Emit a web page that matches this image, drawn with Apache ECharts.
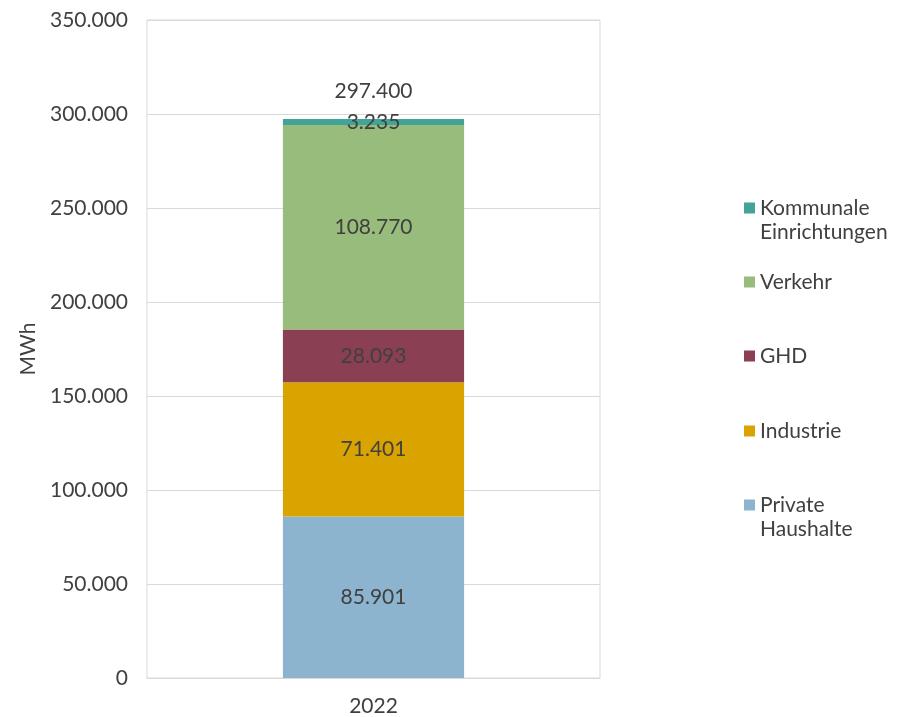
<!DOCTYPE html>
<html>
<head>
<meta charset="utf-8">
<script src="https://cdn.jsdelivr.net/npm/echarts@6/dist/echarts.min.js"></script>
<style>
  body { margin: 0; background: #fff; }
  #chart { width: 899px; height: 717px; }
</style>
</head>
<body>
<div id="chart"></div>
<script>
// Endenergieverbrauch nach Sektoren, 2022
const years = ['2022']
const privateHaushalte = [85901]
const industrie = [71401]
const ghd = [28093]
const verkehr = [108770]
const kommunale = [3235]
const total = [297400]

const font = 'Lato, "Open Sans", sans-serif'
const textColor = '#404040'
const fs = 21

// deutsche Tausenderpunkte
const fmt = v => String(Math.round(v)).replace(/\B(?=(\d{3})+(?!\d))/g, '.')

const makeSeries = (name, data, color) => ({
  name: name,
  type: 'bar',
  stack: 'total',
  data: data,
  barWidth: '40%',
  itemStyle: { color: color },
  label: {
    show: true,
    position: 'inside',
    color: textColor,
    fontFamily: font,
    fontSize: fs,
    formatter: p => fmt(p.value)
  }
})

const legendItem = (name, top) => ({
  data: [name],
  orient: 'vertical',
  left: 739,
  top: top,
  itemWidth: 11,
  itemHeight: 11,
  itemGap: 0,
  icon: 'rect',
  selectedMode: false,
  formatter: n => n.split(' ')[0],
  textStyle: { color: textColor, fontFamily: font, fontSize: fs, lineHeight: 24 }
})

const option = {
  animation: false,
  grid: {
    left: 147,
    right: 299,
    top: 20,
    bottom: 39,
    show: true,
    borderColor: '#d9d9d9',
    borderWidth: 1
  },
  xAxis: {
    type: 'category',
    data: years,
    axisLine: { lineStyle: { color: '#d9d9d9' } },
    axisTick: { show: false },
    axisLabel: { color: textColor, fontFamily: font, fontSize: fs, margin: 18 }
  },
  yAxis: {
    type: 'value',
    min: 0,
    max: 350000,
    interval: 50000,
    name: 'MWh',
    nameLocation: 'middle',
    nameGap: 104,
    nameTextStyle: { color: textColor, fontFamily: font, fontSize: fs },
    axisLine: { show: false },
    axisTick: { show: false },
    splitLine: { lineStyle: { color: '#d9d9d9' } },
    axisLabel: { color: textColor, fontFamily: font, fontSize: fs, margin: 19, formatter: v => fmt(v) }
  },
  legend: [
    legendItem('Kommunale Einrichtungen', 191),
    legendItem('Verkehr', 265),
    legendItem('GHD', 339),
    legendItem('Industrie', 414),
    legendItem('Private Haushalte', 488)
  ],
  graphic: [
    { type: 'text', left: 760, top: 222, style: { text: 'Einrichtungen', fill: textColor, font: fs + 'px ' + font } },
    { type: 'text', left: 760, top: 519, style: { text: 'Haushalte', fill: textColor, font: fs + 'px ' + font } }
  ],
  series: [
    makeSeries('Private Haushalte', privateHaushalte, '#8cb4cf'),
    makeSeries('Industrie', industrie, '#d9a300'),
    makeSeries('GHD', ghd, '#8b3f52'),
    makeSeries('Verkehr', verkehr, '#98bc7c'),
    makeSeries('Kommunale Einrichtungen', kommunale, '#41a497'),
    {
      name: 'Summe',
      type: 'bar',
      data: total,
      barWidth: '40%',
      barGap: '-100%',
      silent: true,
      z: 1,
      itemStyle: { color: 'transparent' },
      label: {
        show: true,
        position: 'top',
        distance: 17,
        color: textColor,
        fontFamily: font,
        fontSize: fs,
        formatter: p => fmt(p.value)
      }
    }
  ]
}

const chart = echarts.init(document.getElementById('chart'))
chart.setOption(option)
</script>
</body>
</html>
